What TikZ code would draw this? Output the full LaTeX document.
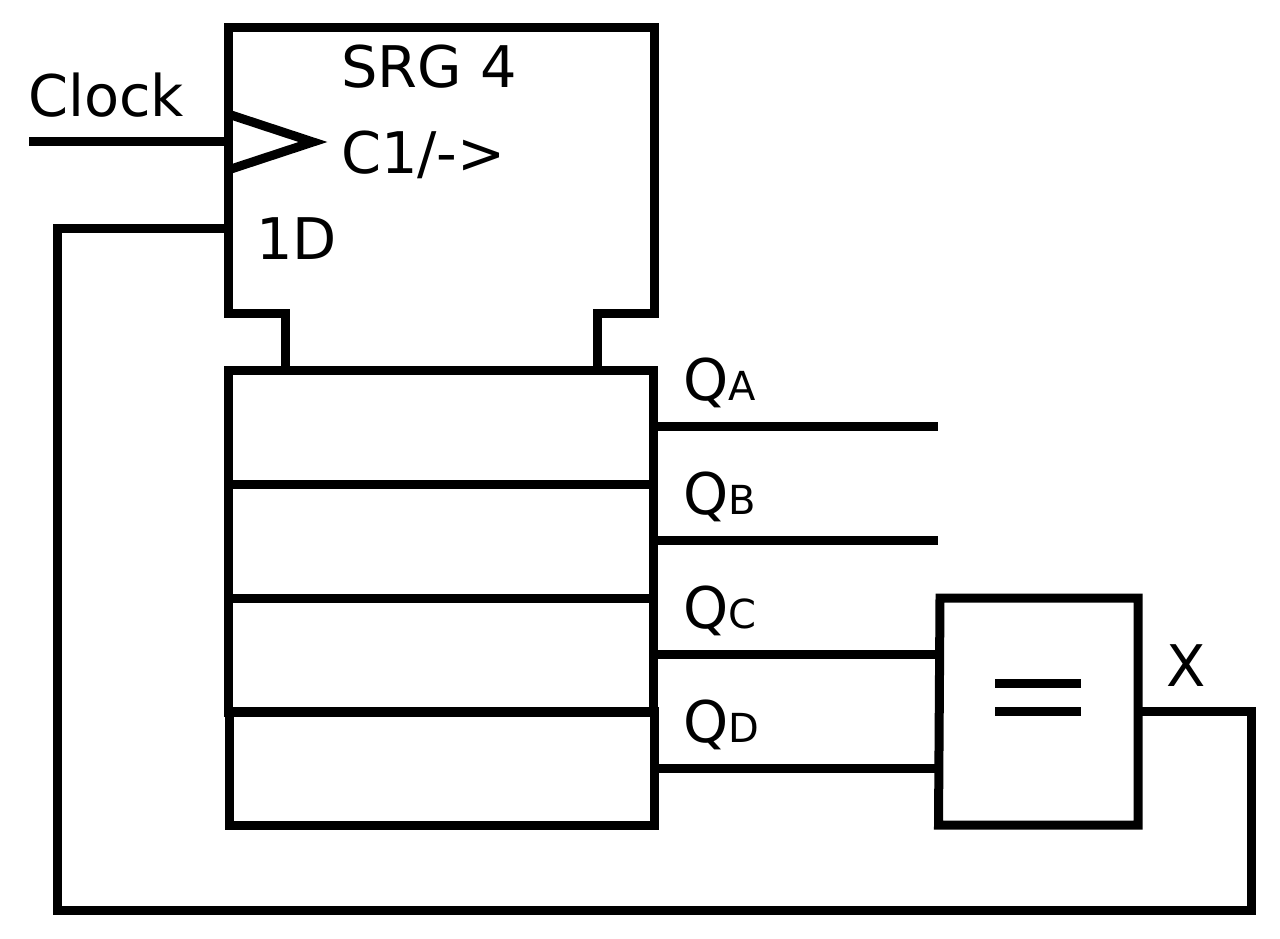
\documentclass[tikz,border=0pt]{standalone}
\usepackage{fontspec}
\setmainfont{DejaVu Sans}
\tikzset{
  wire/.style={draw=black,line width=9,line cap=butt,line join=miter},
  lab/.style={anchor=base west,inner sep=0,outer sep=0,font=\fontsize{57.4}{60}\selectfont},
  cell/.style={draw=black,line width=9,fill=none,rectangle,inner sep=0,outer sep=0,anchor=north west,minimum width=425,minimum height=114}
}
\newcommand{\qsub}[1]{Q{\fontsize{40}{40}\selectfont #1}}
\begin{document}
\begin{tikzpicture}[x=1pt,y=-1pt]
\useasboundingbox (0,0) rectangle (1280,939);
% control block
\draw[wire] (285,370) -- (285,313) -- (228,313) -- (228,28) -- (654,28) -- (654,313) -- (597,313) -- (597,370);
\node[cell] (r1) at (228,370) {};
\node[cell] (r2) at (228,484) {};
\node[cell] (r3) at (228,598) {};
\node[cell] (r4) at (229,711) {};
% comparator box
\coordinate (eqnw) at (940,598);
\coordinate (eqne) at (1138,598);
\coordinate (eqse) at (1138,825);
\coordinate (eqsw) at (938.5,825);
\coordinate (eqout) at (1138,711);
\draw[wire] (eqnw) -- (eqne) -- (eqse) -- (eqsw) -- cycle;
% clock triangle
\coordinate (ctop) at (228,114);
\coordinate (ctip) at (313,142);
\coordinate (cbot) at (228,170);
\draw[wire] (ctop) -- (ctip) -- (cbot);
% wires
\coordinate (clk) at (29,142);
\coordinate (clkin) at (228,142);
\draw[wire] (clk) -- (clkin);
\coordinate (qas) at (654,426);
\coordinate (qbs) at (654,540);
\coordinate (qae) at (938,426);
\coordinate (qbe) at (938,540);
\draw[wire] (qas) -- (qae);
\draw[wire] (qbs) -- (qbe);
\coordinate (qcs) at (654,654);
\coordinate (qds) at (654,768);
\coordinate (qce) at (939,654);
\coordinate (qde) at (939,768);
\draw[wire] (qcs) -- (qce);
\draw[wire] (qds) -- (qde);
\coordinate (din) at (228,228);
\draw[wire] (eqout) -- (1251,711) -- (1251,910) -- (57,910) -- (57,228) -- (din);
% equal sign
\coordinate (e1a) at (995,683);
\coordinate (e1b) at (1081,683);
\coordinate (e2a) at (995,711);
\coordinate (e2b) at (1081,711);
\draw[wire] (e1a) -- (e1b);
\draw[wire] (e2a) -- (e2b);
% labels
\node[lab] (lclock) at (28,117) {Clock};
\node[lab] (lsrg) at (341,87.5) {SRG 4};
\node[lab] (lc1) at (341,173.5) {C1/->};
\node[lab] (l1d) at (256,259) {1D};
\node[lab] (lqa) at (683,400) {\qsub{A}};
\node[lab] (lqb) at (683,514) {\qsub{B}};
\node[lab] (lqc) at (683,628) {\qsub{C}};
\node[lab] (lqd) at (683,742) {\qsub{D}};
\node[lab] (lx) at (1166,686) {X};
\end{tikzpicture}
\end{document}
